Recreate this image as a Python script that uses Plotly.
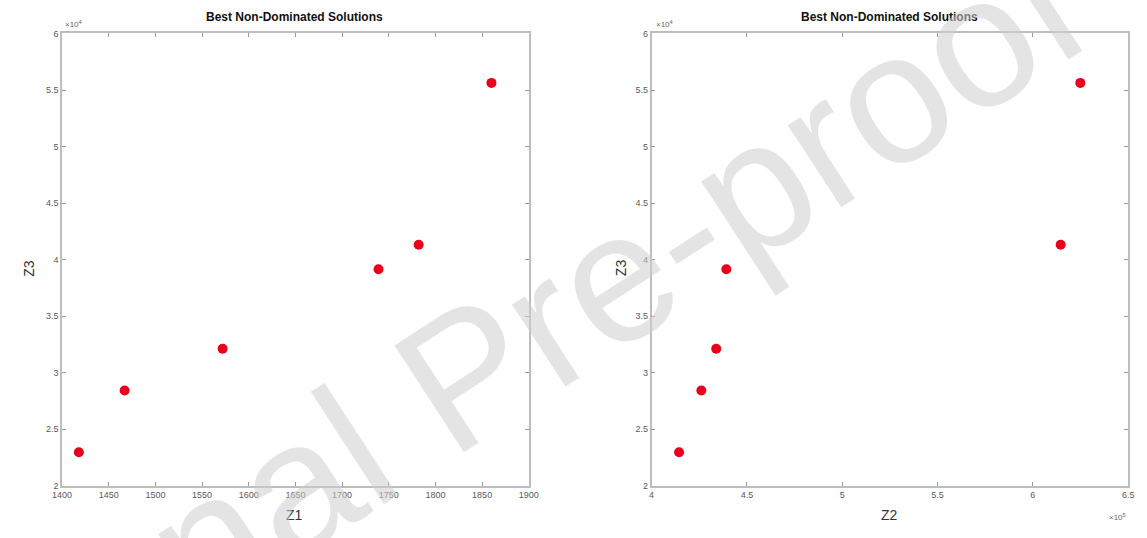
import plotly.graph_objects as go

# Best non-dominated solutions of the three objectives
z1 = [1418, 1467, 1572, 1739, 1782, 1860]
z2 = [414400, 426100, 433900, 439200, 614600, 624900]
z3 = [22980, 28440, 32120, 39150, 41320, 55630]

z1_ticks = [1400, 1450, 1500, 1550, 1600, 1650, 1700, 1750, 1800, 1850, 1900]
z2_ticks = [400000, 450000, 500000, 550000, 600000, 650000]
z2_labels = ["4", "4.5", "5", "5.5", "6", "6.5"]
z3_ticks = [20000, 25000, 30000, 35000, 40000, 45000, 50000, 55000, 60000]
z3_labels = ["2", "2.5", "3", "3.5", "4", "4.5", "5", "5.5", "6"]

W, H = 1147, 538
LEFT_DOM = [53 / W, 528 / W]
RIGHT_DOM = [653 / W, 1138 / W]
Y_DOM = [1 - 490 / H, 1 - 29 / H]

tick_font = dict(family="Liberation Sans, Arial, sans-serif", size=9, color="#5a5a5a")
marker = dict(color="#e8001c", size=10, line=dict(width=0))

fig = go.Figure()
fig.add_trace(go.Scatter(x=z1, y=z3, mode="markers", marker=marker,
                         xaxis="x", yaxis="y", showlegend=False))
fig.add_trace(go.Scatter(x=z2, y=z3, mode="markers", marker=marker,
                         xaxis="x2", yaxis="y2", showlegend=False))

axis_common = dict(
    showline=True, linecolor="#bdbdbd", linewidth=1.5, mirror="ticks",
    ticks="inside", ticklen=4, tickwidth=1, tickcolor="#9a9a9a",
    showgrid=False, zeroline=False, tickfont=tick_font,
)

fig.update_layout(
    width=W, height=H,
    margin=dict(l=0, r=0, t=0, b=0),
    paper_bgcolor="white", plot_bgcolor="white",
    xaxis=dict(domain=LEFT_DOM, range=[1400, 1900], tickvals=z1_ticks,
               anchor="y", **axis_common),
    yaxis=dict(domain=Y_DOM, range=[20000, 60000], tickvals=z3_ticks,
               ticktext=z3_labels, anchor="x", **axis_common),
    xaxis2=dict(domain=RIGHT_DOM, range=[400000, 650000], tickvals=z2_ticks,
                ticktext=z2_labels, anchor="y2", **axis_common),
    yaxis2=dict(domain=Y_DOM, range=[20000, 60000], tickvals=z3_ticks,
                ticktext=z3_labels, anchor="x2", **axis_common),
)

def px(xp, yp, xa="center", ya="middle"):
    return dict(x=xp / W, y=1 - yp / H, xref="paper", yref="paper",
                xanchor=xa, yanchor=ya, showarrow=False)

title_font = dict(family="Liberation Sans, Arial, sans-serif", size=12, color="#111111")
label_font = dict(family="Liberation Sans, Arial, sans-serif", size=14, color="#333333")
exp_font = dict(family="Liberation Sans, Arial, sans-serif", size=8, color="#666666")

annotations = [
    dict(text="<b>Best Non-Dominated Solutions</b>", font=title_font, **px(290, 12)),
    dict(text="<b>Best Non-Dominated Solutions</b>", font=title_font, **px(895, 12)),
    dict(text="Z1", font=label_font, **px(290, 520)),
    dict(text="Z2", font=label_font, **px(895, 520)),
    dict(text="Z3", font=label_font, textangle=-90, **px(19, 268)),
    dict(text="Z3", font=label_font, textangle=-90, **px(622, 268)),
    dict(text="×10<sup>4</sup>", font=exp_font, **px(54, 19, xa="left")),
    dict(text="×10<sup>4</sup>", font=exp_font, **px(655, 19, xa="left")),
    dict(text="×10<sup>5</sup>", font=exp_font, **px(1127, 522)),
    # journal watermark across both panels
    dict(text="Journal Pre-proof", textangle=-33,
         font=dict(family="Liberation Sans, Arial, sans-serif", size=185,
                   color="rgba(205,205,205,0.55)"),
         **px(462, 378)),
]
fig.update_layout(annotations=annotations)

fig.write_html("out.html")
